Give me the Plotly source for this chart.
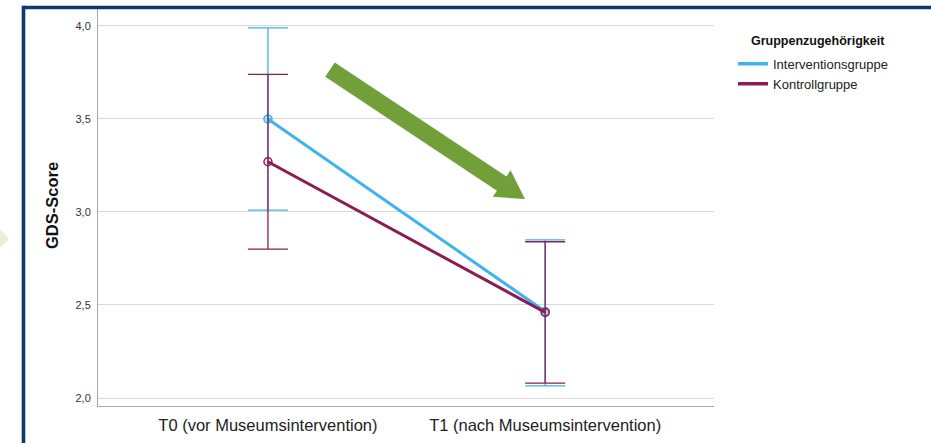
import math
import plotly.graph_objects as go

# Measurement points and group statistics (mean with confidence interval)
zeitpunkte = ["T0 (vor Museumsintervention)", "T1 (nach Museumsintervention)"]
gruppen = ["Interventionsgruppe", "Kontrollgruppe"]
mittelwerte = {
    "Interventionsgruppe": [3.50, 2.465],
    "Kontrollgruppe": [3.27, 2.46],
}
ki_unten = {
    "Interventionsgruppe": [3.01, 2.065],
    "Kontrollgruppe": [2.80, 2.08],
}
ki_oben = {
    "Interventionsgruppe": [3.99, 2.85],
    "Kontrollgruppe": [3.74, 2.84],
}
y_ticks = [2.0, 2.5, 3.0, 3.5, 4.0]

farben = {"Interventionsgruppe": "#3FB3EC", "Kontrollgruppe": "#8A1E50"}
fuellung = {"Interventionsgruppe": "rgba(63,179,236,0.35)", "Kontrollgruppe": "rgba(138,30,80,0.12)"}

W, H = 931, 443
M_L, M_R, M_T, M_B = 98, 217, 9, 35
PW, PH = W - M_L - M_R, H - M_T - M_B


def px(x):
    return (x - M_L) / PW


def py(y):
    return (H - M_B - y) / PH


fig = go.Figure()
x_pos = list(range(len(zeitpunkte)))
for g in gruppen:
    m = mittelwerte[g]
    plus = [o - v for o, v in zip(ki_oben[g], m)]
    minus = [v - u for u, v in zip(ki_unten[g], m)]
    fig.add_trace(go.Scatter(
        x=x_pos, y=m, name=g, mode="lines+markers", showlegend=False,
        line=dict(color=farben[g], width=3),
        marker=dict(size=8, color=fuellung[g], line=dict(color=farben[g], width=1.5)),
        error_y=dict(type="data", symmetric=False, array=plus, arrayminus=minus,
                     color=farben[g], thickness=1.3, width=20),
    ))
# legend keys show the line only
for g in gruppen:
    fig.add_trace(go.Scatter(
        x=[None], y=[None], name=g, mode="lines",
        line=dict(color=farben[g], width=3.5),
    ))

# block arrow illustrating the decline
sx, sy = 330, 70      # shaft start (centre)
tx, ty = 525, 200     # tip
dx, dy = tx - sx, ty - sy
L = math.hypot(dx, dy)
ux, uy = dx / L, dy / L
nx, ny = -uy, ux
hw, hh, hl = 8.6, 16, 28
bx, by = tx - ux * hl, ty - uy * hl
pts = [
    (sx + nx * hw, sy + ny * hw),
    (bx + nx * hw, by + ny * hw),
    (bx + nx * hh, by + ny * hh),
    (tx, ty),
    (bx - nx * hh, by - ny * hh),
    (bx - nx * hw, by - ny * hw),
    (sx - nx * hw, sy - ny * hw),
]
path = "M " + " L ".join(f"{px(a):.5f},{py(b):.5f}" for a, b in pts) + " Z"

shapes = [
    dict(type="path", xref="paper", yref="paper", path=path,
         fillcolor="#71A03A", line=dict(width=0), layer="above"),
    # page frame
    dict(type="line", xref="paper", yref="paper", x0=px(23.5), x1=px(940),
         y0=py(7.5), y1=py(7.5), line=dict(color="#0E3A6B", width=3.6)),
    dict(type="line", xref="paper", yref="paper", x0=px(23.5), x1=px(23.5),
         y0=py(5.7), y1=py(450), line=dict(color="#0E3A6B", width=3.6)),
    # light green chevron at the page edge
    dict(type="path", xref="paper", yref="paper",
         path=f"M {px(-2)},{py(229)} L {px(9)},{py(240)} L {px(-2)},{py(251)} Z",
         fillcolor="#E6F0D8", line=dict(width=0)),
]

fig.update_layout(
    width=W, height=H,
    margin=dict(l=M_L, r=M_R, t=M_T, b=M_B),
    paper_bgcolor="white", plot_bgcolor="white",
    font=dict(family="Liberation Sans, Arial, sans-serif", color="#222222"),
    separators=",.",
    showlegend=True,
    legend=dict(
        x=px(733), y=py(49), xanchor="left", yanchor="top",
        font=dict(size=13, color="#222222"),
        itemwidth=30, tracegroupgap=0,
        bgcolor="rgba(0,0,0,0)",
    ),
    shapes=shapes,
    annotations=[
        dict(text="<b>GDS-Score</b>", xref="paper", yref="paper",
             x=px(52), y=py(207), textangle=-90, showarrow=False,
             font=dict(size=16.5, color="#111111"), xanchor="center", yanchor="middle"),
        dict(text="<b>Gruppenzugehörigkeit</b>", xref="paper", yref="paper",
             x=px(749), y=py(41), showarrow=False, xanchor="left", yanchor="middle",
             font=dict(size=12.5, color="#111111")),
    ],
    xaxis=dict(
        range=[-0.613, 1.609], tickvals=x_pos, ticktext=zeitpunkte,
        showgrid=False, zeroline=False, showline=True, linecolor="#A6A6A6", linewidth=1,
        ticks="", tickfont=dict(size=16.5, color="#222222"), ticklabelstandoff=4,
    ),
    yaxis=dict(
        range=[1.957, 4.091], tickvals=y_ticks, tickformat=".1f",
        showgrid=True, gridcolor="#D9D9D9", gridwidth=1, zeroline=False,
        showline=True, linecolor="#A6A6A6", linewidth=1,
        ticks="", tickfont=dict(size=11, color="#333333"), ticklabelstandoff=4,
    ),
)

fig.write_html("out.html")
